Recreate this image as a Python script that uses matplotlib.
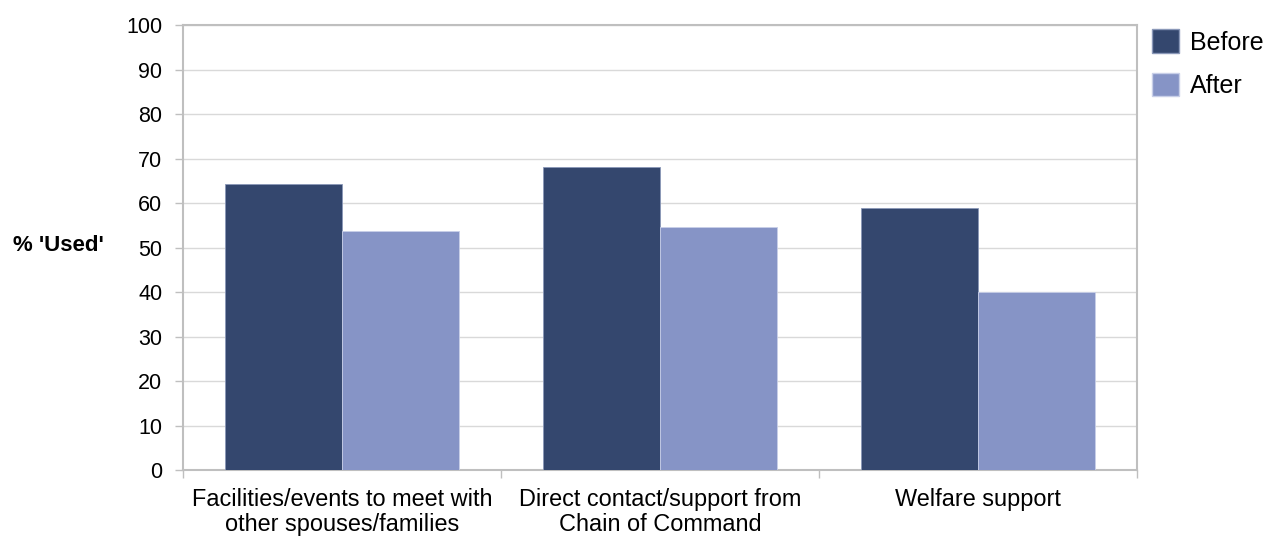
import numpy as np
import matplotlib
matplotlib.use("Agg")
import matplotlib.pyplot as plt
from matplotlib.patches import Patch

plt.rcParams['font.family'] = ['Liberation Sans', 'DejaVu Sans']

# support types and share of respondents who used them
categories = ["Facilities/events to meet with\nother spouses/families",
              "Direct contact/support from\nChain of Command",
              "Welfare support"]
before = [64.3, 68.2, 58.9]
after = [53.8, 54.7, 40.0]
series_names = ["Before", "After"]

c_before = "#34476e"
c_after = "#8694c6"
axis_grey = "#bfbfbf"

fig = plt.figure(figsize=(12.72, 5.4), dpi=100)
ax = fig.add_axes([0.1439, 0.1296, 0.75, 0.8241])

x = np.arange(len(categories))
w = 0.368
ax.bar(x - w/2, before, w, color=c_before, edgecolor="#8a98b8", linewidth=0.6, zorder=3)
ax.bar(x + w/2, after, w, color=c_after, edgecolor="#c8cfe8", linewidth=0.6, zorder=3)

ax.set_xlim(-0.5, len(categories) - 0.5)
ax.set_ylim(0, 100)
ax.set_yticks(np.arange(0, 101, 10))
ax.yaxis.grid(True, color="#d9d9d9", linewidth=1, zorder=0)

ax.set_xticks(x)
ax.set_xticklabels(categories, fontsize=16.9, linespacing=1.08)
ax.set_xticks(np.arange(-0.5, len(categories)), minor=True)
ax.tick_params(axis='x', which='major', length=0, pad=13)
ax.tick_params(axis='x', which='minor', length=6, color=axis_grey, width=1)
ax.tick_params(axis='y', length=6, color=axis_grey, width=1, labelsize=15.5, pad=9)

for s in ax.spines.values():
    s.set_color(axis_grey)
    s.set_linewidth(1.5)

fig.text(0.010, 0.545, "% 'Used'", fontsize=16, fontweight='bold', va='center', ha='left')

handles = [Patch(facecolor=c_before, edgecolor="#8a98b8"),
           Patch(facecolor=c_after, edgecolor="#c8cfe8")]
fig.legend(handles, series_names, loc='upper left', bbox_to_anchor=(0.892, 0.978),
           frameon=False, fontsize=18, handlelength=1.08, handleheight=1.08,
           handletextpad=0.45, labelspacing=0.72, borderpad=0.2)

fig.savefig("out.png", dpi=100)
